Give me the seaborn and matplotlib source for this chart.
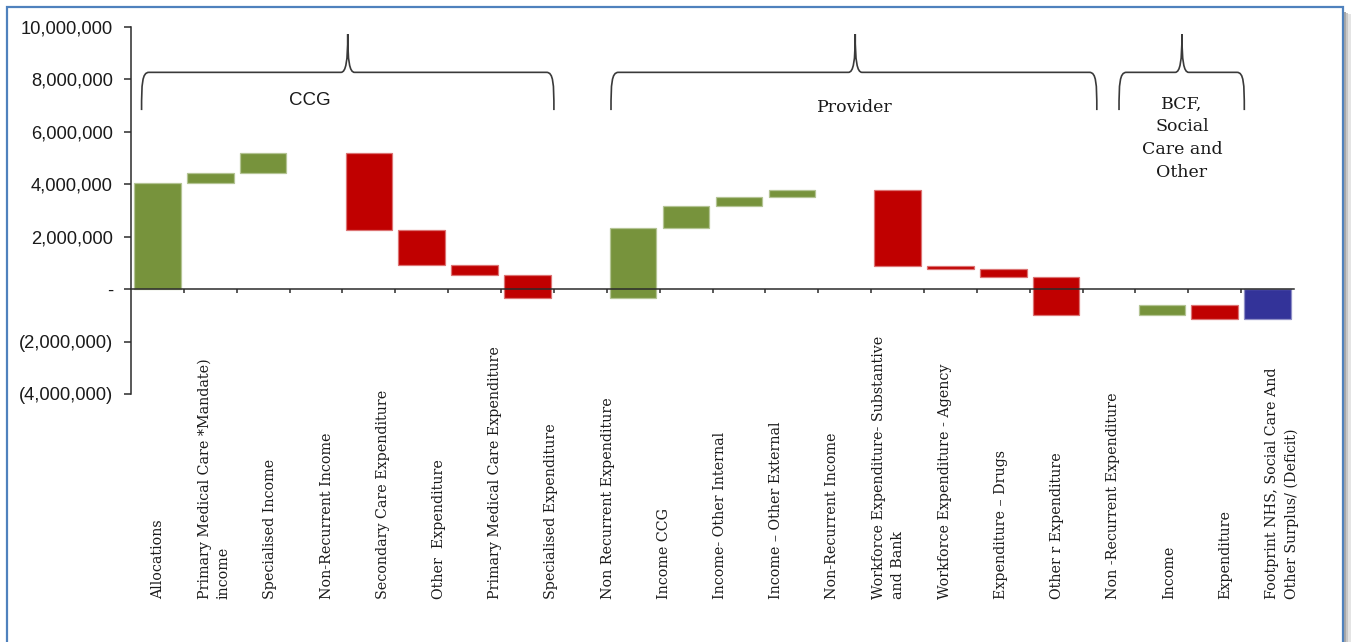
import numpy as np
import pandas as pd
import matplotlib
matplotlib.use("Agg")
import matplotlib.pyplot as plt
from matplotlib.path import Path
from matplotlib.patches import PathPatch, Rectangle
from matplotlib.colors import to_rgb
from matplotlib.ticker import FuncFormatter
from matplotlib.transforms import blended_transform_factory
import seaborn as sns

# ---- data -------------------------------------------------------------
# Waterfall slots in plotting order; "gap" slots separate the groups.
slot_kind = ["inc", "inc", "inc", "inc", "exp", "exp", "exp", "exp", "gap",
             "inc", "inc", "inc", "inc", "gap",
             "exp", "exp", "exp", "exp", "gap",
             "inc", "exp", "total"]
# Movement for each slot (GBP); the final slot shows the running total.
slot_delta = [4030000, 390000, 760000, 0, -2930000, -1330000, -390000, -880000, 0,
              2700000, 830000, 330000, 260000, 0,
              -2870000, -120000, -330000, -1440000, 0,
              370000, -510000, 0]

category_labels = [
    "Allocations",
    "Primary Medical Care *Mandate)\nincome",
    "Specialised Income",
    "Non-Recurrent Income",
    "Secondary Care Expenditure",
    "Other  Expenditure",
    "Primary Medical Care Expenditure",
    "Specialised Expenditure",
    "Non Recurrent Expenditure",
    "Income CCG",
    "Income- Other Internal",
    "Income \u2013 Other External",
    "Non-Recurrent Income",
    "Workforce Expenditure- Substantive\nand Bank",
    "Workforce Expenditure - Agency",
    "Expenditure \u2013 Drugs",
    "Other r Expenditure",
    "Non -Recurrent Expenditure",
    "Income",
    "Expenditure",
    "Footprint NHS, Social Care And\nOther Surplus/ (Deficit)",
]

group_names = ["CCG", "Provider", "BCF,\nSocial\nCare and\nOther"]

y_ticks = [-4000000, -2000000, 0, 2000000, 4000000, 6000000, 8000000, 10000000]

kind_colors = {"inc": "#77933C", "exp": "#C00000", "total": "#333399", "gap": "#FFFFFF"}

# ---- waterfall geometry ----------------------------------------------
bottoms, heights = [], []
running = 0
for kind, d in zip(slot_kind, slot_delta):
    if kind == "total":
        bottoms.append(0)
        heights.append(running)
    else:
        bottoms.append(running)
        heights.append(d)
        running += d
bottoms = np.array(bottoms, dtype=float)
heights = np.array(heights, dtype=float)

df = pd.DataFrame({"slot": np.arange(len(slot_kind)), "amount": heights})

# ---- figure -----------------------------------------------------------
sns.set_theme(style="white")
plt.rcParams["font.family"] = ["Liberation Sans", "DejaVu Sans"]

W, H = 1351, 642
fig = plt.figure(figsize=(W / 100, H / 100), dpi=100)
fig.patch.set_facecolor("white")
ax = fig.add_axes([131 / W, 1 - 394 / H, (1294 - 131) / W, (394 - 27) / H])

sns.barplot(data=df, x="slot", y="amount", bottom=bottoms, errorbar=None,
            width=0.88, order=list(range(len(slot_kind))),
            color=kind_colors["inc"], saturation=1, ax=ax)

for patch, kind, h in zip(ax.patches, slot_kind, heights):
    face = np.array(to_rgb(kind_colors[kind]))
    edge = face * 0.55 + 0.45
    patch.set_facecolor(face)
    patch.set_edgecolor(edge)
    patch.set_linewidth(0.9)
    patch.set_alpha(1)
    if kind == "gap" or h == 0:
        patch.set_visible(False)

n = len(slot_kind)
ax.set_xlim(-0.5, n - 0.5)
ax.set_ylim(-4000000, 10000000)
ax.set_xlabel("")
ax.set_ylabel("")

# axes styling
for side in ("top", "right"):
    ax.spines[side].set_visible(False)
ax.spines["bottom"].set_position(("data", 0))
for side in ("left", "bottom"):
    ax.spines[side].set_color("#2b2b2b")
    ax.spines[side].set_linewidth(1.1)
    ax.spines[side].set_zorder(5)

ax.set_yticks(y_ticks)
ax.yaxis.set_major_formatter(FuncFormatter(
    lambda v, _: "-" if v == 0 else (f"({abs(v):,.0f})" if v < 0 else f"{v:,.0f}")))
ax.tick_params(axis="y", direction="out", length=5, width=1.1, color="#2b2b2b",
               left=True, pad=8, labelsize=13.2, labelcolor="#1a1a1a")

ax.set_xticks(np.arange(n - 1) + 0.5)
ax.set_xticklabels([])
ax.tick_params(axis="x", direction="out", length=3, width=1.1, color="#2b2b2b",
               bottom=True)
ax.grid(False)

# category labels, rotated and bottom aligned
serif = ["DejaVu Serif"]
label_tf = blended_transform_factory(ax.transData, fig.transFigure)
label_pos = np.linspace(0.01, 21.27, len(category_labels))
for xp, lab in zip(label_pos, category_labels):
    ax.text(xp, 1 - 599 / H, lab, transform=label_tf, rotation=90,
            ha="center", va="bottom", multialignment="left",
            fontsize=10.3, family=serif, color="#1a1a1a", clip_on=False,
            linespacing=1.45)


# curly braces over each group
def draw_brace(x0, x1, xm, yb, yh, ytip, dx=0.14, dm=0.13):
    verts = [
        (x0, yb),
        (x0, yb + 0.7 * (yh - yb)), (x0 + 0.01, yh), (x0 + dx, yh),
        (xm - dm, yh),
        (xm - dm * 0.25, yh), (xm, yh + 0.3 * (ytip - yh)), (xm, ytip),
        (xm, yh + 0.3 * (ytip - yh)), (xm + dm * 0.25, yh), (xm + dm, yh),
        (x1 - dx, yh),
        (x1 - 0.01, yh), (x1, yb + 0.7 * (yh - yb)), (x1, yb),
    ]
    codes = [Path.MOVETO,
             Path.CURVE4, Path.CURVE4, Path.CURVE4,
             Path.LINETO,
             Path.CURVE4, Path.CURVE4, Path.CURVE4,
             Path.CURVE4, Path.CURVE4, Path.CURVE4,
             Path.LINETO,
             Path.CURVE4, Path.CURVE4, Path.CURVE4]
    ax.add_patch(PathPatch(Path(verts, codes), fill=False, edgecolor="#3a3a3a",
                           linewidth=1.2, clip_on=False, zorder=4))


brace_spans = [(-0.30, 7.50, 3.60), (8.58, 17.77, 13.20), (18.19, 20.56, 19.38)]
for x0, x1, xm in brace_spans:
    draw_brace(x0, x1, xm, 6830000, 8270000, 9730000)

ax.text(2.89, 7180000, group_names[0], ha="center", va="center",
        fontsize=13.5, color="#1a1a1a")
ax.text(13.20, 6930000, group_names[1], ha="center", va="center",
        fontsize=12.5, family=serif, color="#1a1a1a")
ax.text(19.38, 5760000, group_names[2], ha="center", va="center",
        fontsize=12.5, family=serif, color="#1a1a1a", linespacing=1.45)

# frame around the chart with a soft shadow on the right
fig.patches.append(Rectangle((1344 / W, 0), 2 / W, 1 - 12 / H, transform=fig.transFigure,
                             facecolor="#a8a8a8", edgecolor="none", zorder=0))
fig.patches.append(Rectangle((1346 / W, 0), 2 / W, 1 - 13 / H, transform=fig.transFigure,
                             facecolor="#c8c8c8", edgecolor="none", zorder=0))
fig.patches.append(Rectangle((1348 / W, 0), 3 / W, 1 - 14 / H, transform=fig.transFigure,
                             facecolor="#e4e4e4", edgecolor="none", zorder=0))
fig.patches.append(Rectangle((6.5 / W, -0.05), (1342.5 - 6.5) / W, 1.05 - 6.5 / H,
                             transform=fig.transFigure, fill=False,
                             edgecolor="#4F81BD", linewidth=1.6, zorder=1))

fig.savefig("out.png", dpi=100)
